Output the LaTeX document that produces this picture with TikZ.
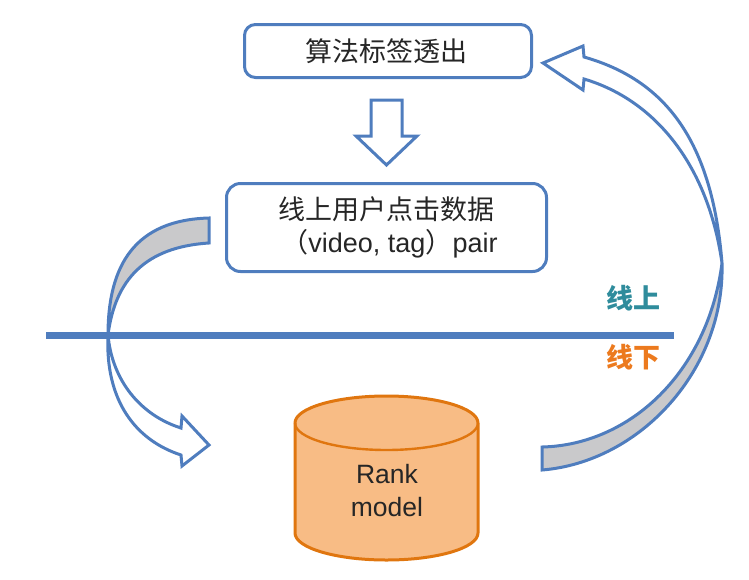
\documentclass[tikz,border=0pt]{standalone}
\usepackage{fontspec}
\setmainfont{Liberation Sans}
\newfontfamily\cjk{Noto Sans CJK SC}
\definecolor{edgeblue}{HTML}{4F7DBE}
\definecolor{bandgray}{HTML}{C9C9CB}
\definecolor{tankfill}{HTML}{F8BC85}
\definecolor{tankedge}{HTML}{E0760F}
\definecolor{inktext}{HTML}{262626}
\definecolor{onlineteal}{HTML}{2F8C9C}
\definecolor{offlineorange}{HTML}{EC7A1E}
\tikzset{
  roundbox/.style={draw=edgeblue,line width=3pt,fill=white,rounded corners=11pt,inner sep=0pt,
    align=center,text=inktext,font=\fontsize{27}{33}\selectfont},
  blockline/.style={draw=edgeblue,line width=3pt,line join=miter,fill=white},
  bandline/.style={draw=edgeblue,line width=3pt,line join=miter,fill=bandgray},
  sidelabel/.style={inner sep=0pt,font=\cjk\bfseries\fontsize{27}{27}\selectfont},
  tanktext/.style={inner sep=0pt,align=center,text=inktext,font=\fontsize{26.5}{33}\selectfont}
}
\begin{document}
\begin{tikzpicture}[x=1pt,y=-1pt]
\useasboundingbox (0,0) rectangle (749,579);

% process boxes
\node[roundbox,minimum width=287pt,minimum height=53pt] (labels) at (388,51) {\cjk\kern-3pt 算法标签透出};
\node[roundbox,rounded corners=14pt,minimum width=320pt,minimum height=88pt] (clicks) at (386.5,227.5)
  {{\cjk 线上用户点击数据}\\\kern6pt{\cjk （}video, tag{\cjk ）}pair};

% hollow arrow between the boxes
\draw[blockline] (371,100) -- (402,100) -- (402,136) -- (417,136) -- (386.5,165)
  -- (356,136) -- (371,136) -- cycle;

% left ribbon: shaded back face, then hollow front face with its head
\draw[bandline] (209,218) .. controls (135,220) and (108,265) .. (108,335)
  .. controls (115,280) and (145,247) .. (209,243) -- cycle;
\draw[blockline] (108,335) .. controls (105,400) and (135,440) .. (181,455)
  -- (182,466) -- (209,445) -- (182,416) -- (181,428)
  .. controls (140,415) and (112,380) .. (108,335) -- cycle;

% right ribbon: shaded back face, then hollow front face with its head
\draw[bandline] (542,447) .. controls (630,445) and (708,372) .. (722,263)
  .. controls (725,370) and (640,462) .. (542,470) -- cycle;
\draw[blockline] (722,263) .. controls (712,140) and (665,80) .. (584,57)
  -- (583,46) -- (543,63) -- (583,90) -- (584,79)
  .. controls (655,100) and (708,165) .. (722,263) -- cycle;

% divider between the online and offline sides
\coordinate (divleft) at (46,335);
\coordinate (divright) at (674,335);
\draw[edgeblue,line width=7pt] (divleft) -- (divright);
\node[sidelabel,text=onlineteal] (online) at (633,298) {线上};
\node[sidelabel,text=offlineorange] (offline) at (633,357) {线下};

% model store
\draw[tankedge,line width=3pt,fill=tankfill] (295,423) arc[start angle=180,end angle=360,x radius=91.5,y radius=27]
  -- (478,533) arc[start angle=0,end angle=180,x radius=91.5,y radius=27] -- cycle;
\draw[tankedge,line width=2.4pt] (295,423) arc[start angle=180,end angle=0,x radius=91.5,y radius=27];
\node[tanktext] (rank) at (387,491) {Rank\\model};
\end{tikzpicture}
\end{document}
